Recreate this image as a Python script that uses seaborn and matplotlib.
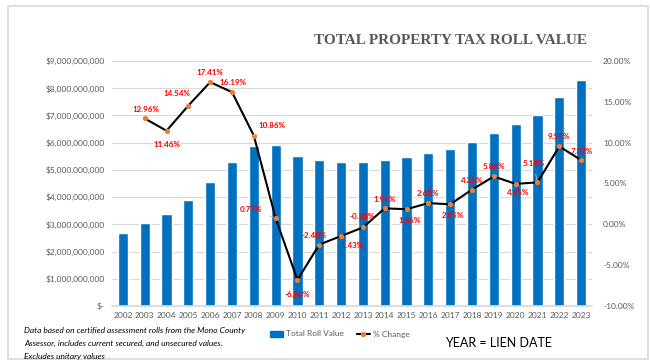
import numpy as np
import pandas as pd
import matplotlib
matplotlib.use("Agg")
import matplotlib.pyplot as plt
from matplotlib.patches import Rectangle
from matplotlib.lines import Line2D
from matplotlib.ticker import FuncFormatter, MultipleLocator
import seaborn as sns

# ---- data -------------------------------------------------------------
years = [str(y) for y in range(2002, 2024)]
roll_value = [2.69e9, 3.04e9, 3.39e9, 3.88e9, 4.56e9, 5.29e9, 5.87e9, 5.91e9,
              5.51e9, 5.37e9, 5.30e9, 5.28e9, 5.38e9, 5.48e9, 5.62e9, 5.76e9,
              6.01e9, 6.36e9, 6.67e9, 7.01e9, 7.68e9, 8.29e9]
pct_change = [np.nan, 12.96, 11.46, 14.54, 17.41, 16.19, 10.86, 0.75,
              -6.80, -2.48, -1.43, -0.38, 1.96, 1.85, 2.60, 2.45,
              4.25, 5.86, 4.95, 5.14, 9.54, 7.87]

# label placement (pixel offsets from each point) and leader-line flags
label_offsets = [None, (1, 9), (0, -14), (-11, 12), (0, 10), (1, 10), (18, 10),
                 (-25, 9), (0, -15), (-5, 9), (10, -9), (-1, 11), (0, 9),
                 (3, -11), (0, 10), (3, -11), (0, 9), (0, 10), (2, -9),
                 (-4, 19), (0, 10), (1, 9)]
leaders = {2, 3, 6, 7, 10, 19}

BLUE = "#0070C0"
ORANGE = "#ED7D31"
GRAY = "#595959"

sns.set_theme(style="white")
plt.rcParams["font.family"] = ["Lato", "DejaVu Sans"]

df = pd.DataFrame({"year": years, "value": roll_value, "pct": pct_change})
df["pos"] = np.arange(len(df))

fig = plt.figure(figsize=(6.5, 3.6), dpi=100)
ax = fig.add_axes([112 / 650, 1 - 306 / 360, 480 / 650, 245 / 360])

sns.barplot(data=df, x="year", y="value", color=BLUE, width=0.47,
            saturation=1, ax=ax, zorder=2)
ax.set_xlim(-0.5, len(df) - 0.5)
ax.set_ylim(0, 9e9)
ax.yaxis.set_major_locator(MultipleLocator(1e9))
ax.yaxis.set_major_formatter(FuncFormatter(
    lambda v, _: "$-" if v == 0 else f"${v:,.0f}"))
ax.grid(axis="y", color="#D9D9D9", linewidth=0.8, zorder=0)
ax.set_axisbelow(True)
ax.set_xlabel("")
ax.set_ylabel("")
for side in ["top", "right", "left"]:
    ax.spines[side].set_visible(False)
ax.spines["bottom"].set_color("#D9D9D9")
ax.tick_params(axis="both", length=0, labelsize=6, colors=GRAY)
ax.tick_params(axis="y", pad=5)
ax.tick_params(axis="x", pad=4)

# percent change line on the secondary axis
ax2 = ax.twinx()
sns.lineplot(data=df, x="pos", y="pct", color="black", linewidth=1.5,
             marker="o", markersize=3, markerfacecolor=ORANGE,
             markeredgecolor=ORANGE, ax=ax2, zorder=3)
ax2.set_ylim(-10, 20)
ax2.yaxis.set_major_locator(MultipleLocator(5))
ax2.yaxis.set_major_formatter(FuncFormatter(lambda v, _: f"{v:.2f}%"))
ax2.set_xlabel("")
ax2.set_ylabel("")
for side in ["top", "right", "left", "bottom"]:
    ax2.spines[side].set_visible(False)
ax2.tick_params(axis="y", length=0, labelsize=6, colors=GRAY, pad=8)
ax2.grid(False)

for i, (p, v) in enumerate(zip(df["pos"], df["pct"])):
    if np.isnan(v):
        continue
    dx, dy = label_offsets[i]
    arrow = dict(arrowstyle="-", color="#BFBFBF", lw=0.6,
                 shrinkA=3, shrinkB=2) if i in leaders else None
    ax2.annotate(f"{v:.2f}%", xy=(p, v), xytext=(dx, dy),
                 textcoords="offset pixels", ha="center", va="center",
                 fontsize=5.8, fontweight="bold", color="#FF0000",
                 arrowprops=arrow, zorder=4)

# title
fig.text(450 / 650, 1 - 41 / 360, "TOTAL PROPERTY TAX ROLL VALUE",
         ha="center", va="center", fontsize=11, fontweight="bold",
         color=GRAY, family=["Liberation Serif", "DejaVu Serif"])

# legend
handles = [Rectangle((0, 0), 1, 1, color=BLUE),
           Line2D([0], [0], color="black", lw=1.5, marker="o", markersize=2.8,
                  markerfacecolor=ORANGE, markeredgecolor=ORANGE)]
fig.legend(handles, ["Total Roll Value", "% Change"], loc="center",
           bbox_to_anchor=(340 / 650, 1 - 334 / 360), ncol=2, frameon=False,
           fontsize=6, handlelength=1.6, handleheight=0.7, columnspacing=1.5,
           handletextpad=0.4, labelcolor=GRAY)

# notes
notes = ["Data based on certified assessment rolls from the Mono County",
         "Assessor, includes current secured, and unsecured values.",
         "Excludes unitary values"]
for k, line in enumerate(notes):
    fig.text(24 / 650, 1 - (331 + 12.5 * k) / 360, line, ha="left",
             va="center", fontsize=6, style="italic", color="black")

fig.text(498 / 650, 1 - 343 / 360, "YEAR = LIEN DATE", ha="center",
         va="center", fontsize=9, color="black")

# frame around the chart
fig.add_artist(Rectangle((8 / 650, 1 - 359 / 360), 640 / 650, 353 / 360,
                         transform=fig.transFigure, fill=False,
                         edgecolor="#D9D9D9", linewidth=1.2))

fig.savefig("out.png", dpi=100)
